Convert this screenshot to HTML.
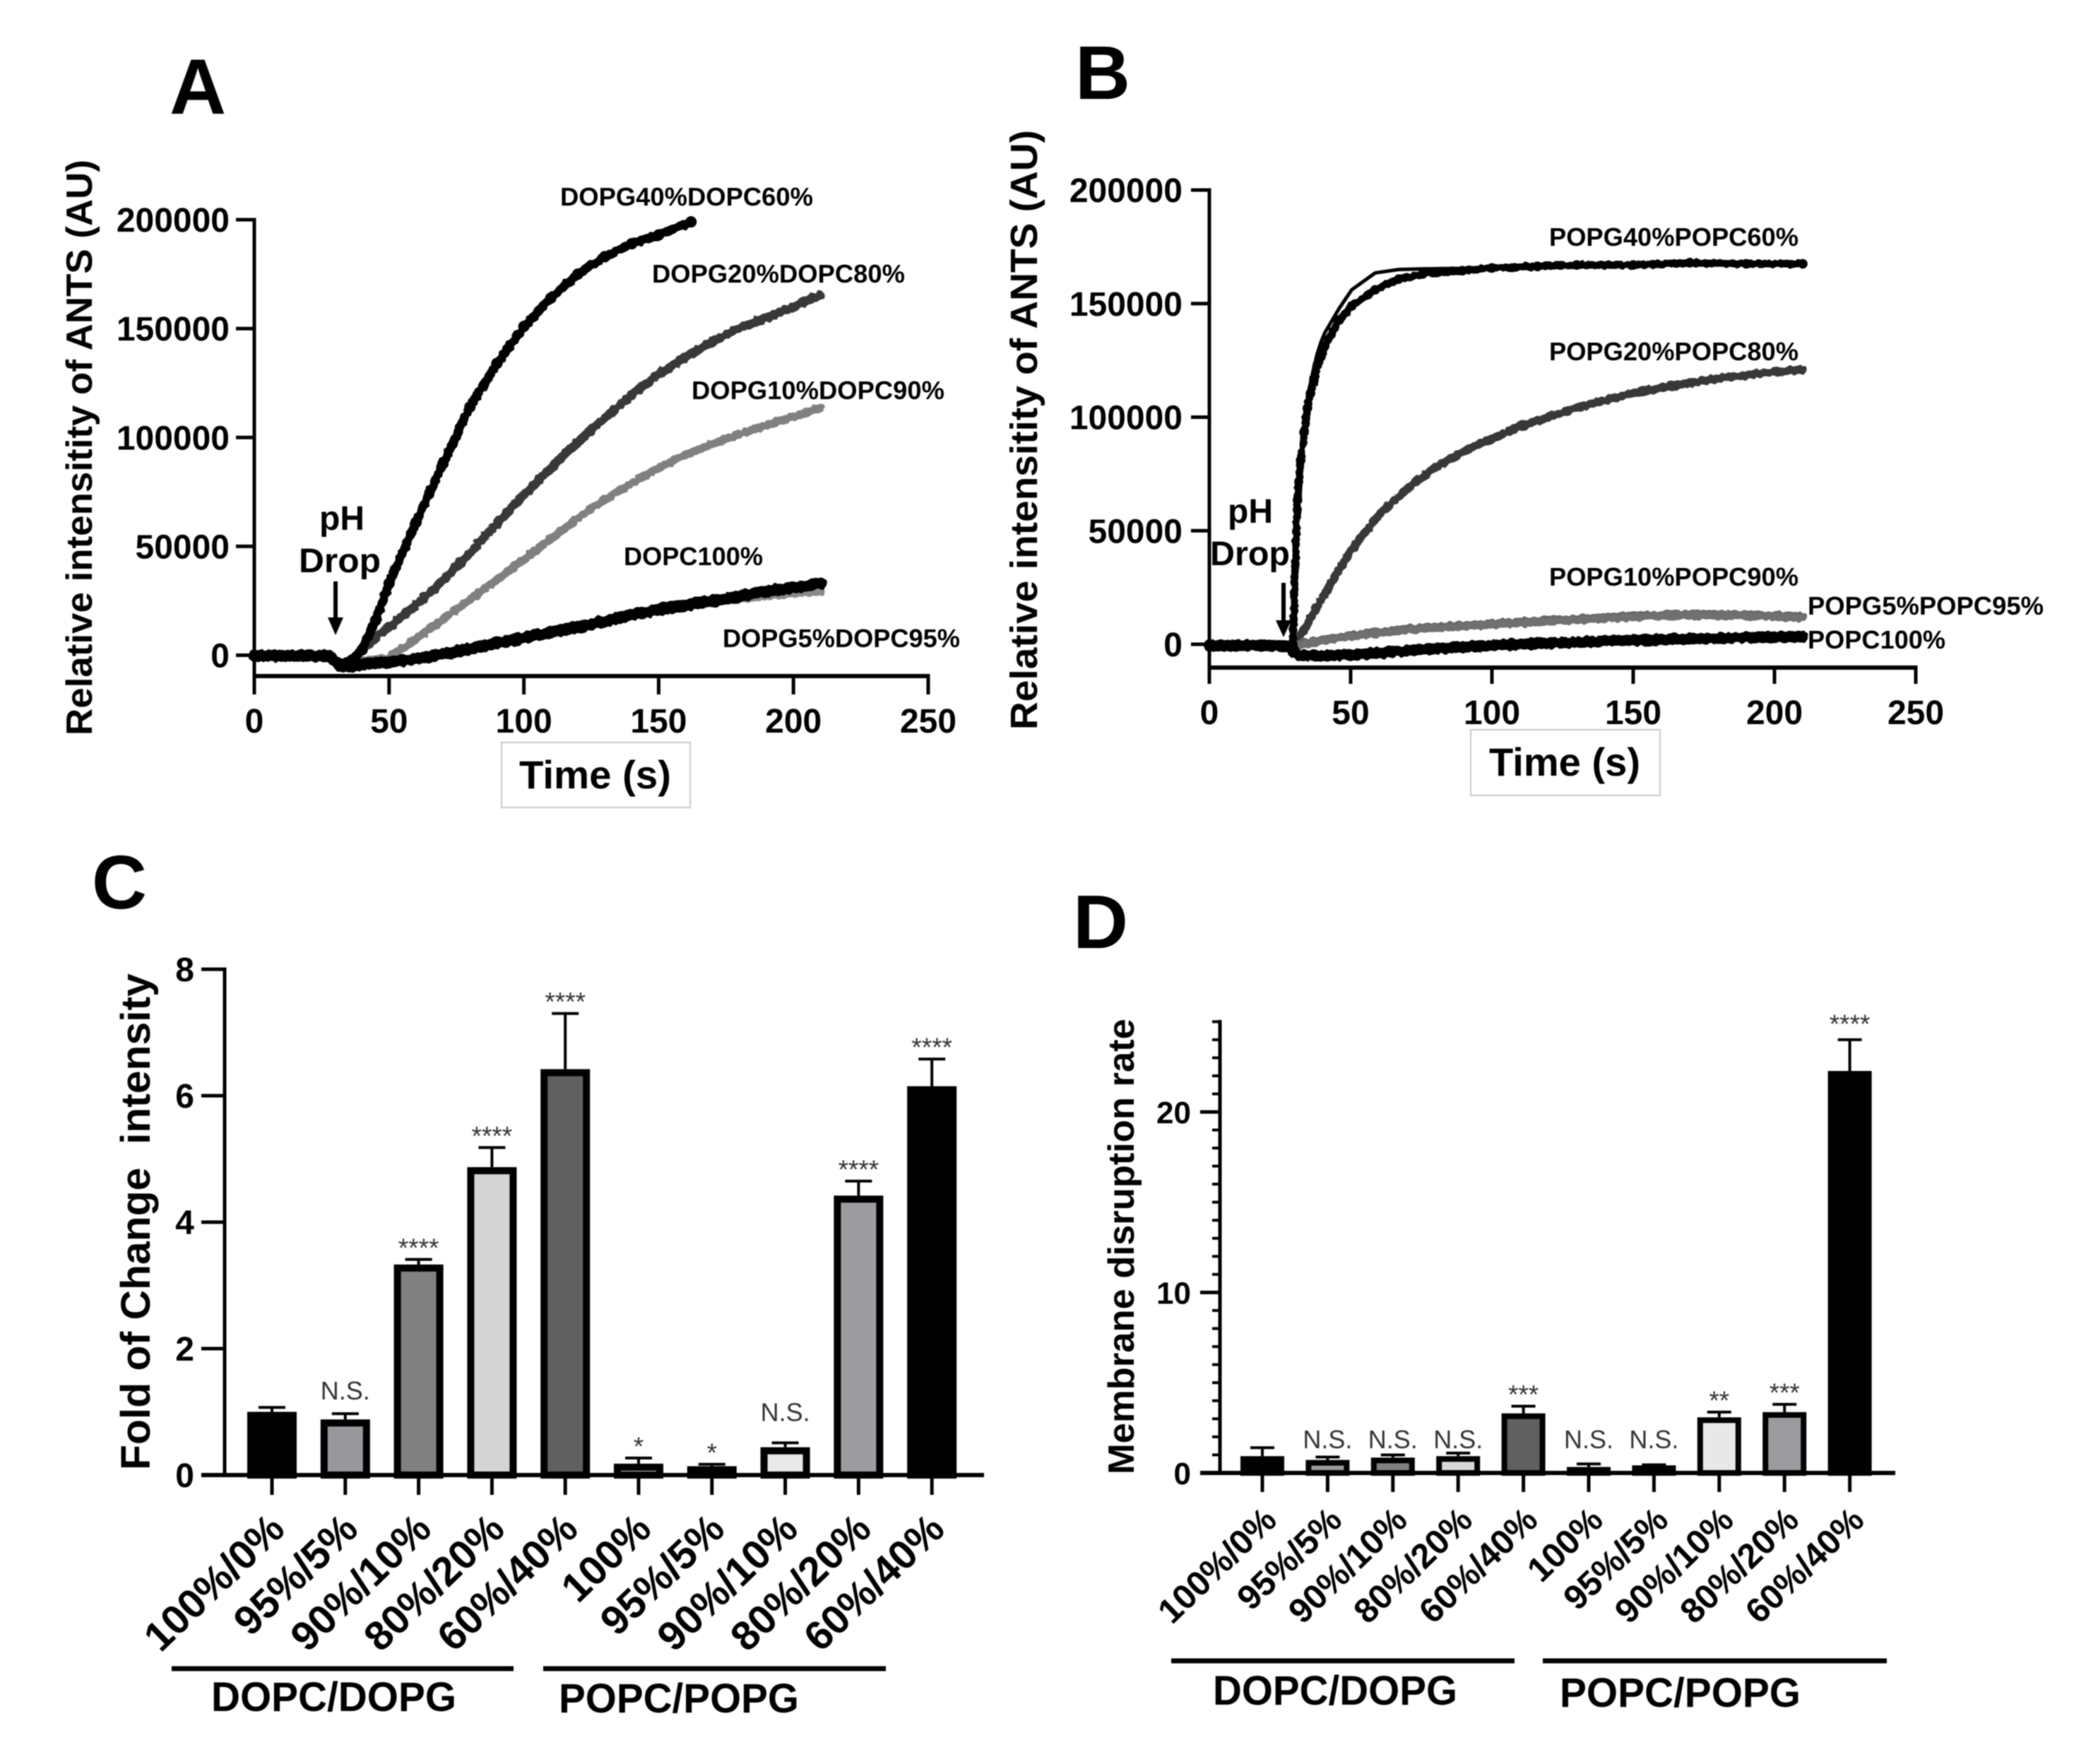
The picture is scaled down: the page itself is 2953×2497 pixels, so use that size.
<!DOCTYPE html>
<html lang="en">
<head>
<meta charset="utf-8">
<title>ANTS membrane disruption panels</title>
<style>
html,body{margin:0;padding:0;background:#fff;}
svg{display:block;filter:blur(0.9px);}
text{font-family:"Liberation Sans",sans-serif;font-weight:700;fill:#000;white-space:pre;}
.sig{font-weight:400;fill:#333;}
</style>
</head>
<body>
<svg id="fig" xmlns="http://www.w3.org/2000/svg" width="2953" height="2497" viewBox="0 0 2953 2497">
<defs>
<filter id="jag" filterUnits="userSpaceOnUse" x="0" y="0" width="2953" height="1100" color-interpolation-filters="sRGB">
<feTurbulence type="fractalNoise" baseFrequency="0.16" numOctaves="1" seed="3" result="n"/>
<feDisplacementMap in="SourceGraphic" in2="n" scale="7" xChannelSelector="R" yChannelSelector="G"/>
</filter>
</defs>
<rect x="0" y="0" width="2953" height="2497" fill="#fff"/>

<!-- Panel letters -->
<text x="240" y="161" font-size="111">A</text>
<text x="1522" y="140" font-size="108">B</text>
<text x="130" y="1286" font-size="108">C</text>
<text x="1519" y="1342" font-size="108">D</text>

<!-- Panel A static text -->
<text transform="translate(130,1041) rotate(-90)" font-size="52" textLength="815" lengthAdjust="spacingAndGlyphs">Relative intensitity of ANTS (AU)</text>
<text x="793" y="291" font-size="36" textLength="358" lengthAdjust="spacingAndGlyphs">DOPG40%DOPC60%</text>
<text x="923" y="400" font-size="36" textLength="358" lengthAdjust="spacingAndGlyphs">DOPG20%DOPC80%</text>
<text x="979" y="565" font-size="36" textLength="358" lengthAdjust="spacingAndGlyphs">DOPG10%DOPC90%</text>
<text x="883" y="800" font-size="36" textLength="197" lengthAdjust="spacingAndGlyphs">DOPC100%</text>
<text x="1023" y="916" font-size="36" textLength="336" lengthAdjust="spacingAndGlyphs">DOPG5%DOPC95%</text>
<text x="484" y="750" font-size="48" text-anchor="middle">pH</text>
<text x="481" y="810" font-size="48" text-anchor="middle" textLength="116" lengthAdjust="spacingAndGlyphs">Drop</text>
<rect x="710" y="1051" width="267" height="92" fill="#fff" stroke="#c8c8c8" stroke-width="2"/>
<text x="735" y="1116" font-size="56" textLength="215" lengthAdjust="spacingAndGlyphs">Time (s)</text>
<line x1="475" y1="823" x2="475" y2="885" stroke="#000" stroke-width="6"/>
<polygon points="464,874 486,874 475,899" fill="#000"/>

<!-- Panel B static text -->
<text transform="translate(1468,1033) rotate(-90)" font-size="54" textLength="849" lengthAdjust="spacingAndGlyphs">Relative intensitity of ANTS (AU)</text>
<text x="2193" y="348" font-size="36" textLength="353" lengthAdjust="spacingAndGlyphs">POPG40%POPC60%</text>
<text x="2193" y="510" font-size="36" textLength="353" lengthAdjust="spacingAndGlyphs">POPG20%POPC80%</text>
<text x="2193" y="829" font-size="36" textLength="353" lengthAdjust="spacingAndGlyphs">POPG10%POPC90%</text>
<text x="2559" y="870" font-size="36" textLength="334" lengthAdjust="spacingAndGlyphs">POPG5%POPC95%</text>
<text x="2559" y="918" font-size="36" textLength="195" lengthAdjust="spacingAndGlyphs">POPC100%</text>
<text x="1770" y="740" font-size="48" text-anchor="middle">pH</text>
<text x="1713" y="800" font-size="48" textLength="113" lengthAdjust="spacingAndGlyphs">Drop</text>
<rect x="2082" y="1033" width="268" height="93" fill="#fff" stroke="#c8c8c8" stroke-width="2"/>
<text x="2108" y="1098" font-size="56" textLength="214" lengthAdjust="spacingAndGlyphs">Time (s)</text>
<line x1="1817" y1="825" x2="1817" y2="890" stroke="#000" stroke-width="6"/>
<polygon points="1806,878 1828,878 1817,902" fill="#000"/>

<!-- Panel C static text -->
<text transform="translate(212,2081) rotate(-90)" font-size="58" textLength="703" lengthAdjust="spacingAndGlyphs">Fold of Change  intensity</text>
<line x1="243" y1="2362" x2="727" y2="2362" stroke="#000" stroke-width="7"/>
<line x1="769" y1="2362" x2="1254" y2="2362" stroke="#000" stroke-width="7"/>
<text x="299" y="2422" font-size="58" textLength="347" lengthAdjust="spacingAndGlyphs">DOPC/DOPG</text>
<text x="791" y="2424" font-size="58" textLength="340" lengthAdjust="spacingAndGlyphs">POPC/POPG</text>

<!-- Panel D static text -->
<text transform="translate(1605,2087) rotate(-90)" font-size="52" textLength="645" lengthAdjust="spacingAndGlyphs">Membrane disruption rate</text>
<line x1="1658" y1="2351" x2="2144" y2="2351" stroke="#000" stroke-width="7"/>
<line x1="2184" y1="2351" x2="2671" y2="2351" stroke="#000" stroke-width="7"/>
<text x="1717" y="2413" font-size="58" textLength="346" lengthAdjust="spacingAndGlyphs">DOPC/DOPG</text>
<text x="2208" y="2416" font-size="58" textLength="341" lengthAdjust="spacingAndGlyphs">POPC/POPG</text>
</svg>

<script>
// ---------- Panel A data ----------
const aTimes = [0,10,20,28,32,36,40,45,50,60,70,80,90,100,110,120,130,140,150,160,170,180,190,200,210];
const aDopg40Times = [0,10,20,28,32,36,40,45,50,60,70,80,90,100,110,120,130,140,150,162];
const aDopg40 = [-200,-200,-200,-500,-4000,-2500,2500,16000,33000,61000,88000,114000,134000,151000,164000,175000,183000,189000,193000,199000];
const aDopg20 = [-200,-200,-200,-500,-4000,-2500,2500,8000,13000,23000,34500,47000,60500,73500,86000,98000,109000,119500,129000,137000,144000,150500,155000,160000,165500];
const aDopg10 = [-200,-200,-200,-500,-4000,-4000,-2500,-2000,-1000,7500,16500,25500,34500,44000,53500,63000,71500,79000,86000,92000,97000,101500,105500,109500,114000];
const aDopg5 = [-200,-200,-200,-500,-5000,-5000,-4500,-4000,-3300,-2000,0,2500,5000,7500,10000,12500,15000,18000,20500,22500,24500,26000,27500,28500,29500];
const aDopc100 = [-200,-200,-200,-500,-5000,-5000,-4200,-3600,-3000,-1800,500,3000,5500,8000,10500,13000,15500,18500,21000,23000,25000,27000,29500,31000,33000];

// ---------- Panel B data ----------
const bFastTimes = [0,10,20,27,29,29.5,31.2,32.3,33.5,34.7,35.8,37,38.2,39.5,40.8,46,50.4,58.7,67,75.4,89.5,100,116,130,150,170,190,210];
const bPopg40 = [-500,-300,-500,-700,-1500,0,63500,81000,93300,104000,110500,116300,122900,126600,131300,142800,149000,156100,160800,163000,164500,165700,166400,167000,167000,168000,167500,167500];
const bPopg40Fit = [-500,-500,-500,-500,-1000,0,60000,80000,94000,107000,115000,122000,128000,133000,137000,148000,156100,163500,165000,165300,165500,166000,166500,167000,167000,167000,167000,167000];
const bTimes = [0,10,20,27,30,32,40,50,60,70,80,90,100,110,120,130,140,150,160,170,180,190,200,210];
const bPopg20 = [-500,-500,-500,-700,-2500,3000,20500,41000,57000,68500,78000,85000,90500,96000,100000,104000,107500,110500,113000,115000,117000,118500,120000,121000];
const bPopg10 = [-500,-500,-500,-700,-2500,0,1800,3700,5200,6700,7400,8200,9000,9700,10300,11000,11700,12300,12800,13000,13000,12800,12500,12000];
const bPopg5 = [-500,-500,-500,-700,-2500,-500,1500,3300,4800,6200,7000,7800,8600,9300,9900,10600,11300,11900,12400,12600,12600,12400,12100,11500];
const bPopc100 = [-500,-500,-500,-700,-3000,-5000,-5000,-4700,-3800,-2800,-1900,-1200,-600,0,500,1000,1400,1800,2100,2400,2700,3000,3200,3400];

// ---------- Tick labels ----------
const timeTicks = [0,50,100,150,200,250];
const intensityTicks = [0,50000,100000,150000,200000];
const foldTicks = [0,2,4,6,8];
const rateMajorTicks = [0,10,20];
const rateMinorTicks = [1,2,3,4,5,6,7,8,9,11,12,13,14,15,16,17,18,19,21,22,23,24,25];

// ---------- Bar chart data ----------
const barCategories = ['100%/0%','95%/5%','90%/10%','80%/20%','60%/40%','100%','95%/5%','90%/10%','80%/20%','60%/40%'];
const cValues = [1.0,0.88,3.33,4.87,6.42,0.18,0.14,0.44,4.42,6.15];
const cErrors = [0.07,0.09,0.08,0.31,0.88,0.09,0.03,0.07,0.23,0.43];
const cSignificance = ['','N.S.','****','****','****','*','*','N.S.','****','****'];
const cFills = ['#000000','#98989c','#808080','#d4d4d4','#606060','#c8c8c8','#b8b8b8','#e8e8e8','#9c9ca0','#000000'];
const dValues = [0.93,0.72,0.85,0.93,3.3,0.33,0.42,3.08,3.37,22.27];
const dErrors = [0.47,0.16,0.15,0.17,0.4,0.17,0.03,0.29,0.43,1.73];
const dSignificance = ['','N.S.','N.S.','N.S.','***','N.S.','N.S.','**','***','****'];
const dFills = ['#000000','#9a9a9a','#808080','#d8d8d8','#606060','#c0c0c0','#b0b0b0','#e8e8e8','#9c9ca0','#000000'];

const svg = document.getElementById('fig');
const NS = 'http://www.w3.org/2000/svg';

function make(tag, attrs, name) {
  const el = document.createElementNS(NS, tag);
  for (const k in attrs) el.setAttribute(k, attrs[k]);
  
  
  svg.appendChild(el);
  return el;
}
function rule(x1, y1, x2, y2, w, name, color) {
  return make('line', {x1: x1, y1: y1, x2: x2, y2: y2, stroke: color || '#000', 'stroke-width': w}, name);
}
function label(str, x, y, size, anchor, name, extra) {
  const attrs = Object.assign({x: x, y: y, 'font-size': size, 'text-anchor': anchor}, extra || {});
  const el = make('text', attrs, name);
  el.textContent = str;
  return el;
}

// ---------- Line panels ----------
function linePanel(p) {
  const xS = t => p.x0 + t * p.xPerUnit;
  const yS = v => p.y0 - v * p.yPerUnit;
  rule(p.x0, yS(intensityTicks[intensityTicks.length - 1]) - 2.5, p.x0, p.axisY + 3, 5, p.id + '-y-axis');
  rule(p.x0 - 2.5, p.axisY, xS(250) + 2.5, p.axisY, 6, p.id + '-x-axis');
  intensityTicks.forEach(v => {
    rule(p.x0 - 26, yS(v), p.x0, yS(v), 5, p.id + '-y-tick-' + v);
    label(String(v), p.labelRight, yS(v) + 17, 48, 'end', p.id + '-y-tick-label-' + v);
  });
  timeTicks.forEach(t => {
    rule(xS(t), p.axisY, xS(t), p.tickEnd, 5, p.id + '-x-tick-' + t);
    label(String(t), xS(t), p.xLabelY, 48, 'middle', p.id + '-x-tick-label-' + t);
  });
  p.series.forEach(s => {
    const pts = s.values.map((v, i) => xS(s.times[i]).toFixed(1) + ',' + yS(v).toFixed(1));
    const attrs = {points: pts.join(' '), fill: 'none', stroke: s.color, 'stroke-width': s.width, 'stroke-linejoin': 'round', 'stroke-linecap': 'round'};
    if (s.rough) attrs.filter = 'url(#jag)';
    make('polyline', attrs, p.id + '-series-' + s.name);
    if (s.dots) {
      s.values.forEach((v, i) => {
        make('circle', {cx: xS(s.times[i]), cy: yS(v), r: s.width * 0.62, fill: s.color}, p.id + '-point-' + s.name);
      });
    }
  });
}

linePanel({
  id: 'a', x0: 360, xPerUnit: 3.816, y0: 927.5, yPerUnit: 616.5 / 200000, axisY: 957, tickEnd: 983, labelRight: 325, xLabelY: 1037,
  series: [
    {name: 'dopg5', times: aTimes, values: aDopg5, color: '#8a8a8a', width: 13, rough: true},
    {name: 'dopg10', times: aTimes, values: aDopg10, color: '#808080', width: 12, rough: true},
    {name: 'dopg20', times: aTimes, values: aDopg20, color: '#383838', width: 13, rough: true},
    {name: 'dopg40', times: aDopg40Times, values: aDopg40, color: '#000000', width: 13, dots: true, rough: true},
    {name: 'dopc100', times: aTimes, values: aDopc100, color: '#000000', width: 17, rough: true}
  ]
});

linePanel({
  id: 'b', x0: 1712, xPerUnit: 4, y0: 912, yPerUnit: 643 / 200000, axisY: 945, tickEnd: 968, labelRight: 1674, xLabelY: 1025,
  series: [
    {name: 'popg20', times: bTimes, values: bPopg20, color: '#383838', width: 12, rough: true},
    {name: 'popg10', times: bTimes, values: bPopg10, color: '#666666', width: 13, rough: true},
    {name: 'popg5', times: bTimes, values: bPopg5, color: '#707070', width: 11, rough: true},
    {name: 'popc100', times: bTimes, values: bPopc100, color: '#000000', width: 16, rough: true},
    {name: 'popg40', times: bFastTimes, values: bPopg40, color: '#000000', width: 11, dots: true, rough: true},
    {name: 'popg40-fit', times: bFastTimes, values: bPopg40Fit, color: '#000000', width: 5}
  ]
});

// ---------- Bar panels ----------
function barPanel(p) {
  const xS = i => p.x0 + i * p.step;
  const yS = v => p.y0 - v * p.yPerUnit;
  p.values.forEach((v, i) => {
    const top = yS(v);
    const errTop = yS(v + p.errors[i]);
    rule(xS(i), errTop, xS(i), top, 4, p.id + '-error-stem-' + i);
    rule(xS(i) - p.capW / 2, errTop, xS(i) + p.capW / 2, errTop, 4, p.id + '-error-cap-' + i);
    make('rect', {x: xS(i) - p.barW / 2 + p.sw / 2, y: top + p.sw / 2, width: p.barW - p.sw, height: Math.max(p.y0 - top - p.sw / 2, 0.5), fill: p.fills[i], stroke: '#000', 'stroke-width': p.sw}, p.id + '-bar-' + i);
    const sig = p.significance[i];
    if (sig) {
      const isNS = sig === 'N.S.';
      const y = isNS ? p.nsBaseline(errTop, i) : errTop - p.starGap(i);
      label(sig, xS(i), y, isNS ? 36 : 37, 'middle', p.id + '-significance-' + i, {class: 'sig'});
    }
    rule(xS(i), p.y0, xS(i), p.tickEnd, 5, p.id + '-x-tick-' + i);
    const lx = xS(i) + p.labelDx;
    label(barCategories[i], lx, p.labelY, p.labelSize, 'end', p.id + '-x-tick-label-' + i, {transform: 'rotate(-44 ' + lx + ' ' + p.labelY + ')'});
  });
  rule(p.axisX, yS(p.yMax) - 2.5, p.axisX, p.y0 + 3, 5, p.id + '-y-axis');
  rule(p.axisLeft, p.y0, p.axisRight, p.y0, 6, p.id + '-x-axis');
  p.majorTicks.forEach(v => {
    rule(p.axisLeft, yS(v), p.axisX, yS(v), 5, p.id + '-y-tick-' + v);
    label(String(v), p.labelRight, yS(v) + p.tickLabelShift, p.tickSize, 'end', p.id + '-y-tick-label-' + v);
  });
  (p.minorTicks || []).forEach(v => {
    rule(p.axisX - 11, yS(v), p.axisX, yS(v), 4, p.id + '-y-minor-tick-' + v);
  });
}

barPanel({
  id: 'c', x0: 385, step: 103.8, y0: 2088, yPerUnit: 716 / 8, barW: 70, sw: 10, capW: 38, values: cValues, errors: cErrors, fills: cFills,
  significance: cSignificance, tickEnd: 2116, labelDx: 21, labelY: 2168, labelSize: 58,
  nsBaseline: (errTop, i) => errTop - (i === 1 ? 20 : 31), starGap: () => 4,
  axisX: 318, axisLeft: 285, axisRight: 1393, yMax: 8, majorTicks: foldTicks,
  labelRight: 275, tickLabelShift: 17, tickSize: 48
});

barPanel({
  id: 'd', x0: 1787, step: 92.4, y0: 2085, yPerUnit: 25.55, barW: 62, sw: 8, capW: 34, values: dValues, errors: dErrors, fills: dFills,
  significance: dSignificance, tickEnd: 2112, labelDx: 23, labelY: 2155, labelSize: 49,
  nsBaseline: () => 2050, starGap: i => (i === 9 ? 10 : 4),
  axisX: 1727, axisLeft: 1699, axisRight: 2683, yMax: 25, majorTicks: rateMajorTicks, minorTicks: rateMinorTicks,
  labelRight: 1686, tickLabelShift: 16, tickSize: 44
});
</script>
</body>
</html>
